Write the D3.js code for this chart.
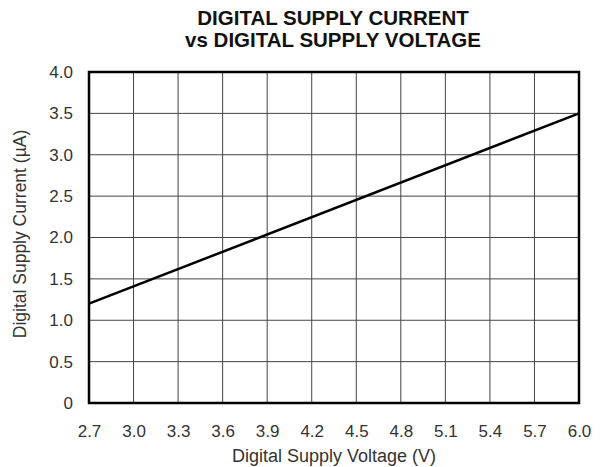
<!DOCTYPE html>
<html lang="en">
<head>
<meta charset="UTF-8">
<title>Digital Supply Current vs Digital Supply Voltage</title>
<script src="https://cdn.jsdelivr.net/npm/d3@7"></script>
<style>
    body { margin: 0; background: #fff; }
    svg { font-family: 'Liberation Sans', Arial, sans-serif; }
</style>
</head>
<body>
<svg id="chart" width="610" height="467"></svg>
<script>
    // data
    const voltage = [2.7, 6.0];
    const current = [1.2, 3.5];
    const xTicks = [2.7, 3.0, 3.3, 3.6, 3.9, 4.2, 4.5, 4.8, 5.1, 5.4, 5.7, 6.0];
    const yTicks = [0, 0.5, 1.0, 1.5, 2.0, 2.5, 3.0, 3.5, 4.0];
    const titleLines = ["DIGITAL SUPPLY CURRENT", "vs DIGITAL SUPPLY VOLTAGE"];

    const svg = d3.select("#chart");
    const m = { left: 89, right: 579, top: 72, bottom: 403 };

    const x = d3.scaleLinear().domain([2.7, 6.0]).range([m.left, m.right]);
    const y = d3.scaleLinear().domain([0, 4.0]).range([m.bottom, m.top]);

    // title
    svg.append("g").selectAll("text")
        .data(titleLines)
        .enter().append("text")
        .attr("x", 333)
        .attr("y", (d, i) => 25 + i * 22)
        .attr("text-anchor", "middle")
        .attr("font-weight", "bold")
        .attr("font-size", 20.5)
        .attr("fill", "#111")
        .text(d => d);

    // grid
    const grid = svg.append("g").attr("stroke", "#444").attr("stroke-width", 1);
    grid.selectAll(".vx")
        .data(xTicks.slice(1, -1))
        .enter().append("line")
        .attr("x1", d => x(d)).attr("x2", d => x(d))
        .attr("y1", m.top).attr("y2", m.bottom);
    grid.selectAll(".hy")
        .data(yTicks.slice(1, -1))
        .enter().append("line")
        .attr("y1", d => y(d)).attr("y2", d => y(d))
        .attr("x1", m.left).attr("x2", m.right);

    // axes with labels only
    const xAxis = svg.append("g")
        .attr("transform", `translate(0,${m.bottom})`)
        .call(d3.axisBottom(x).tickValues(xTicks).tickSize(0).tickPadding(22).tickFormat(d3.format(".1f")));
    const yAxis = svg.append("g")
        .attr("transform", `translate(${m.left},0)`)
        .call(d3.axisLeft(y).tickValues(yTicks).tickSize(0).tickPadding(16)
            .tickFormat(d => d === 0 ? "0" : d3.format(".1f")(d)));
    [xAxis, yAxis].forEach(a => {
        a.select(".domain").remove();
        a.selectAll("text")
            .attr("font-size", 17)
            .attr("fill", "#333")
            .attr("font-family", "'Liberation Sans', Arial, sans-serif");
    });

    // frame
    svg.append("rect")
        .attr("x", m.left).attr("y", m.top)
        .attr("width", m.right - m.left).attr("height", m.bottom - m.top)
        .attr("fill", "none").attr("stroke", "#000").attr("stroke-width", 2.5);

    // curve
    const line = d3.line().x((d, i) => x(voltage[i])).y(d => y(d));
    svg.append("path")
        .datum(current)
        .attr("d", line)
        .attr("fill", "none")
        .attr("stroke", "#000")
        .attr("stroke-width", 2.5);

    // axis titles
    svg.append("text")
        .attr("x", 334)
        .attr("y", 462)
        .attr("text-anchor", "middle")
        .attr("font-size", 18)
        .attr("fill", "#333")
        .text("Digital Supply Voltage (V)");

    svg.append("text")
        .attr("transform", `translate(26,234) rotate(-90)`)
        .attr("text-anchor", "middle")
        .attr("font-size", 17.5)
        .attr("fill", "#333")
        .text("Digital Supply Current (µA)");
</script>
</body>
</html>
